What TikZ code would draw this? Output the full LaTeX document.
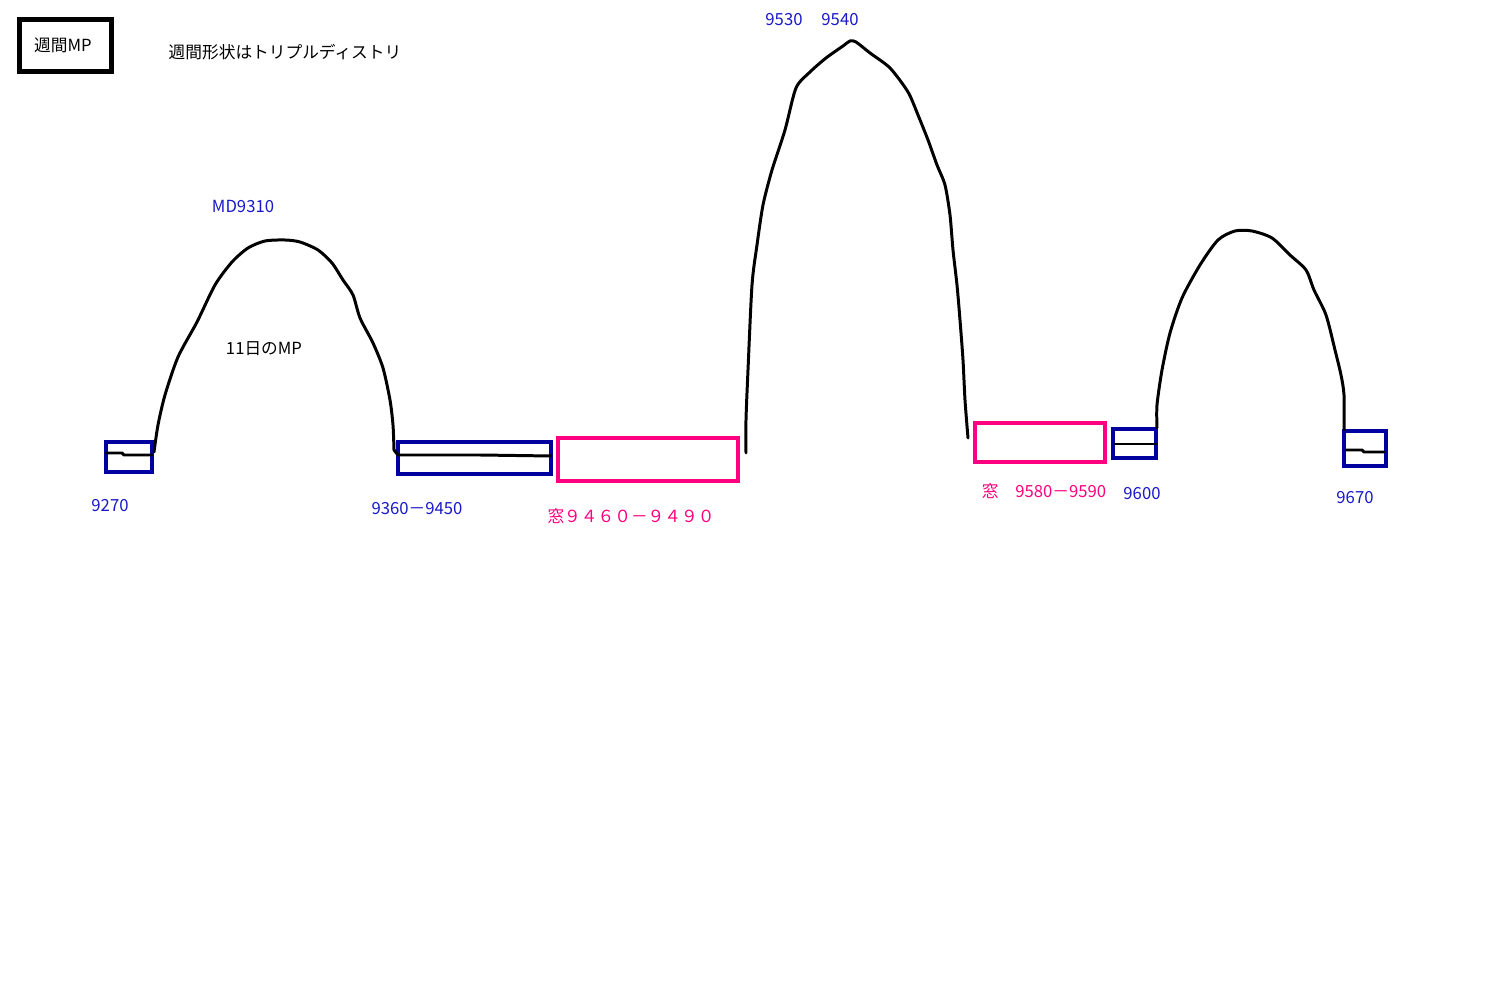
\documentclass[tikz,border=0pt]{standalone}
\usepackage{fontspec}
\setmainfont{Noto Sans CJK JP}
\definecolor{navy}{RGB}{0,0,160}
\definecolor{winpink}{RGB}{255,0,128}
\definecolor{lblblue}{RGB}{25,25,200}
\begin{document}
\begin{tikzpicture}[x=0.02cm,y=-0.02cm,font=\fontsize{9.5}{11}\selectfont,
  bluebox/.style={draw=navy,line width=2.4pt},
  pinkbox/.style={draw=winpink,line width=2.4pt},
  sketch/.style={line width=1.7pt,line join=round,line cap=round},
  bluelbl/.style={text=lblblue,inner sep=0pt},
  pinklbl/.style={text=winpink,inner sep=0pt}]
 \useasboundingbox[fill=white] (0,0) rectangle (1499,989);
 % title box and note
 \draw[line width=2.9pt] (19.5,19.5) rectangle (111.5,71.5);
 \node[inner sep=0pt] (weekmp) at (63,45) {週間MP};
 \node[inner sep=0pt] (shape) at (285,52) {週間形状はトリプルディストリ};
 % boxes
 \draw[bluebox] (106,442) rectangle (152,472);
 \draw[bluebox] (398,442) rectangle (551,474);
 \draw[pinkbox] (558,438) rectangle (738,481);
 \draw[pinkbox] (975,423) rectangle (1105,462);
 \draw[bluebox] (1113,429) rectangle (1156,458);
 \draw[bluebox] (1344,431) rectangle (1386,466);
 % first hump
 \draw[sketch] (106,453) -- (122,453) -- (124,455) -- (152,455);
 \draw[sketch] plot[smooth,tension=0.45] coordinates {(154,452) (158,425) (165,395) (178,357)
   (197,322) (215,285) (232,262) (248,248) (265,241) (285,240) (300,242) (318,250)
   (332,263) (343,280) (353,295) (360,318) (373,343) (383,368) (390,400) (393,425) (394,450)};
 \draw[sketch] (394,450) -- (398,455) -- (480,455) -- (551,456);
 % second hump
 \draw[sketch] plot[smooth,tension=0.45] coordinates {(746,453) (746,420) (748,370) (752,285)
   (757,245) (763,205) (772,170) (785,130) (796,88) (810,72) (826,58) (843,46) (850,41)
   (856,42) (870,53) (890,68) (908,92) (918,115) (928,140) (937,165) (945,185) (950,215)
   (953,250) (957,285) (960,320) (963,360) (965,400) (968,438)};
 % third hump
 \draw[sketch] (1115,444) -- (1156,444);
 \draw[sketch] plot[smooth,tension=0.45] coordinates {(1157,428) (1157,405) (1162,370)
   (1170,333) (1182,298) (1200,265) (1218,240) (1235,231) (1252,231) (1272,238)
   (1290,255) (1306,270) (1314,290) (1326,315) (1335,350) (1341,375) (1344,395) (1344,430)};
 \draw[sketch] (1346,450) -- (1362,450) -- (1364,452) -- (1384,452);
 % labels
 \node[bluelbl] (md) at (243,206) {MD9310};
 \node[inner sep=0pt] (daymp) at (264,349) {11日のMP};
 \node[bluelbl] (top1) at (784,20) {9530};
 \node[bluelbl] (top2) at (840,20) {9540};
 \node[bluelbl] (lowa) at (110,506) {9270};
 \node[bluelbl] (lowb) at (417,509) {9360－9450};
 \node[pinklbl] (wina) at (631,516) {窓９４６０－９４９０};
 \node[pinklbl] (winb) at (1044,491) {窓　9580－9590};
 \node[bluelbl] (lowc) at (1142,494) {9600};
 \node[bluelbl] (lowd) at (1355,498) {9670};
\end{tikzpicture}
\end{document}
